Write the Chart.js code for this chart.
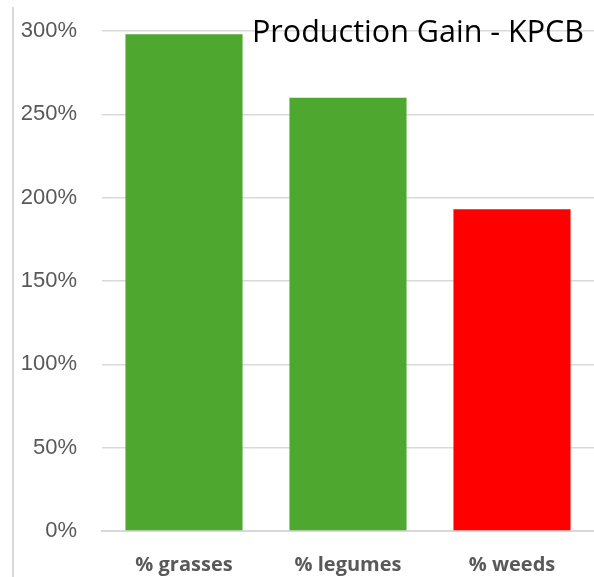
<!DOCTYPE html>
<html>
<head>
<meta charset="utf-8">
<script src="https://cdn.jsdelivr.net/npm/chart.js@4/dist/chart.umd.min.js"></script>
<style>
  html, body { margin: 0; padding: 0; background: #ffffff; }
  #wrap { position: relative; width: 594px; height: 577px; overflow: hidden; }
  #c { position: absolute; left: 0; top: 0; }
  #edge { position: absolute; left: 12px; top: 7px; width: 2px; height: 570px; background: #d9d9d9; }
  #title { position: absolute; right: 10px; top: 15px; font-family: "Open Sans", sans-serif; font-size: 28px; color: #000; white-space: nowrap; line-height: 1; }
</style>
</head>
<body>
<div id="wrap">
  <div id="edge"></div>
  <canvas id="c" width="594" height="577"></canvas>
  <div id="title">Production Gain - KPCB</div>
</div>
<script>
const categories = ["% grasses", "% legumes", "% weeds"];
const gainValues = [298, 260, 193];
const barColors = ["#4EA72E", "#4EA72E", "#FF0000"];
const yTicks = [0, 50, 100, 150, 200, 250, 300];

// fit title width to reference (~332px)
(function(){
  const t = document.getElementById('title');
  const w = t.getBoundingClientRect().width;
  const fs = 28 * 332 / w;
  t.style.fontSize = fs.toFixed(2) + 'px';
})();

new Chart(document.getElementById('c'), {
  type: 'bar',
  data: {
    labels: categories,
    datasets: [{
      data: gainValues,
      backgroundColor: barColors,
      borderWidth: 0,
      categoryPercentage: 1,
      barPercentage: 0.714
    }]
  },
  options: {
    responsive: false,
    animation: false,
    layout: { padding: { top: 31, right: 0, bottom: 0, left: 0 } },
    plugins: { legend: { display: false }, tooltip: { enabled: false }, title: { display: false } },
    scales: {
      x: {
        grid: { display: false, drawTicks: false },
        border: { display: true, color: '#d9d9d9', width: 2 },
        ticks: {
          color: '#595959',
          padding: 22,
          font: { family: '"Open Sans"', size: 20, weight: 'bold' }
        },
        afterFit(scale) { scale.height = 46; scale.paddingLeft = 0; scale.paddingRight = 0; }
      },
      y: {
        min: 0, max: 300,
        afterBuildTicks(scale) { scale.ticks = yTicks.map(v => ({ value: v })); },
        grid: { color: '#d9d9d9', lineWidth: 1.5, drawTicks: false },
        border: { display: false },
        ticks: {
          color: '#595959',
          padding: 25,
          font: { family: '"Liberation Sans", Arial, sans-serif', size: 22 },
          callback: v => v + '%'
        },
        afterFit(scale) { scale.width = 102; scale.paddingTop = 0; scale.paddingBottom = 0; }
      }
    }
  }
});
</script>
</body>
</html>
